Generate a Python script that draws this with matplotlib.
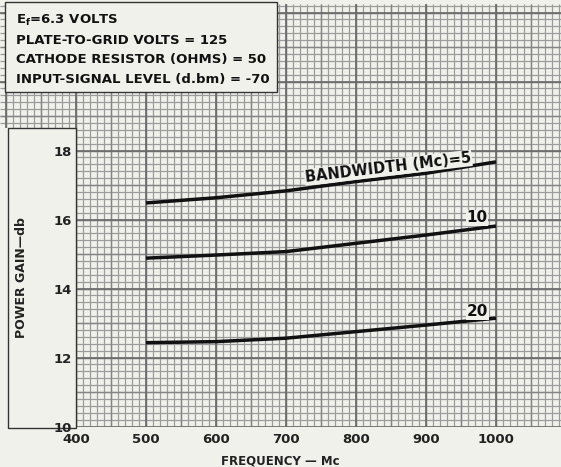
import numpy as np
import matplotlib
matplotlib.use("Agg")
import matplotlib.pyplot as plt
from matplotlib.patches import Rectangle

# data
freq = [500, 600, 700, 800, 900, 1000]
gain_bw5 = [16.48, 16.63, 16.83, 17.10, 17.34, 17.67]
gain_bw10 = [14.88, 14.97, 15.07, 15.31, 15.55, 15.81]
gain_bw20 = [12.43, 12.46, 12.56, 12.75, 12.94, 13.14]

x_ticks = [400, 500, 600, 700, 800, 900, 1000]
y_ticks = [10, 12, 14, 16, 18]

info_lines = ["E$_f$=6.3 VOLTS",
              "PLATE-TO-GRID VOLTS = 125",
              "CATHODE RESISTOR (OHMS) = 50",
              "INPUT-SIGNAL LEVEL (d.bm) = -70"]

bg = "#f1f1ec"
plt.rcParams["font.family"] = ["DejaVu Sans"]
plt.rcParams["font.weight"] = "bold"
plt.rcParams["axes.labelweight"] = "bold"
plt.rcParams["mathtext.default"] = "bf"

fig = plt.figure(figsize=(5.61, 4.67), dpi=100, facecolor=bg)
ax = fig.add_axes([0, 0.0867, 1, 0.905])
ax.set_facecolor(bg)
x0, x1 = 291.4, 1092.9
y0, y1 = 10.0, 22.25
ax.set_xlim(x0, x1)
ax.set_ylim(y0, y1)

# graph paper
fine_x = np.arange(300, 1100, 10)
fine_y = np.arange(10, 22.3, 0.2)
ax.vlines(fine_x, y0, y1, color="#9c9c9c", lw=0.9, zorder=0.5)
ax.hlines(fine_y, x0, x1, color="#9c9c9c", lw=0.9, zorder=0.5)
ax.vlines(np.arange(300, 1100, 50), y0, y1, color="#858585", lw=1.0, zorder=0.6)
ax.hlines(np.arange(10, 23, 1), x0, x1, color="#858585", lw=1.0, zorder=0.6)
ax.vlines(np.arange(300, 1100, 100), y0, y1, color="#6a6a6a", lw=1.2, zorder=0.7)
ax.hlines(np.arange(10, 23, 2), x0, x1, color="#6a6a6a", lw=1.2, zorder=0.7)

# blank panel holding the y label
ax.add_patch(Rectangle((x0, 9.9), 400 - x0, 18.65 - 9.9, facecolor=bg,
                       edgecolor="none", zorder=1, clip_on=False))
ax.add_patch(Rectangle((302.9, 9.96), 400 - 302.9, 18.65 - 9.96, facecolor="none",
                       edgecolor="#333333", lw=1.0, zorder=1.1, clip_on=False))

# curves
for g in [gain_bw5, gain_bw10, gain_bw20]:
    ax.plot(freq, g, color="#111111", lw=2.5, zorder=3, solid_capstyle="butt")

lab = dict(color="#111111", zorder=4, ha="center", va="center",
           bbox=dict(facecolor=bg, edgecolor="none", pad=0.5))
ax.text(846, 17.50, "BANDWIDTH (Mc)=5", rotation=6.8, fontsize=10.5, **lab)
ax.text(973, 16.05, "10", fontsize=11, **lab)
ax.text(973, 13.32, "20", fontsize=11, **lab)

for s in ax.spines.values():
    s.set_visible(False)

ax.set_xticks(x_ticks)
ax.set_xticklabels([str(v) for v in x_ticks])
ax.set_yticks(y_ticks)
ax.set_yticklabels([str(v) for v in y_ticks])
ax.tick_params(axis="x", length=0, pad=5, labelsize=9.5, colors="#222222")
ax.tick_params(axis="y", length=0, pad=-52, labelsize=9.5, colors="#222222")
for t in ax.get_yticklabels():
    t.set_zorder(5)

ax.set_xlabel("FREQUENCY — Mc", fontsize=8.5, color="#222222", labelpad=6)
ax.set_ylabel("POWER GAIN—db", fontsize=9, color="#222222")
ax.yaxis.set_label_coords(28 / 561, (426.5 - 278) / 422.5)

# condition box in the top-left corner
fig.add_artist(Rectangle((5 / 561, 1 - 92 / 467), 272 / 561, 90 / 467,
                         transform=fig.transFigure, facecolor=bg,
                         edgecolor="#333333", lw=1.0, zorder=5))
for i, line in enumerate(info_lines):
    fig.text(16 / 561, 1 - (20 + 20 * i) / 467, line, fontsize=9.5,
             color="#111111", va="center", ha="left", zorder=6)

fig.savefig("out.png", dpi=100, facecolor=bg)
